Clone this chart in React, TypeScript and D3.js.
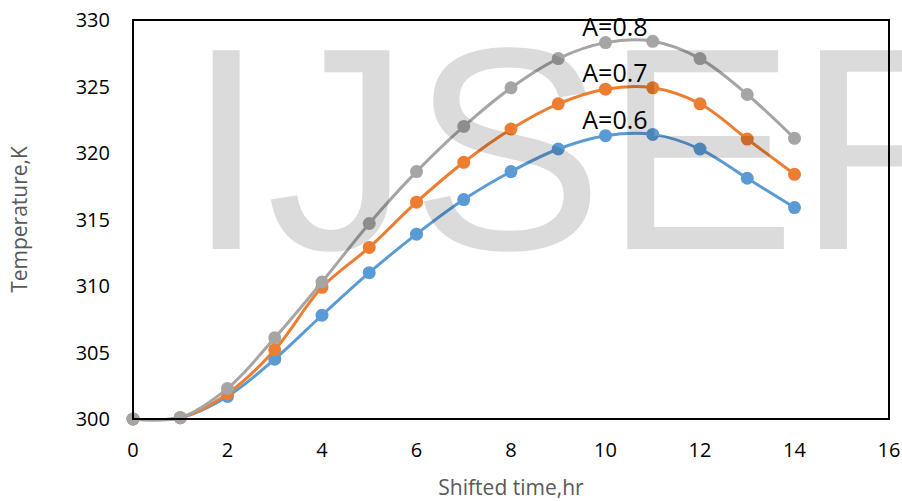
import React from "react";
import * as d3 from "d3";

// Shifted time (hr) and temperature (K) for three values of A
const hours = [0, 1, 2, 3, 4, 5, 6, 7, 8, 9, 10, 11, 12, 13, 14];
const tempA06 = [300, 300.1, 301.7, 304.5, 307.8, 311.0, 313.9, 316.5, 318.6, 320.3, 321.3, 321.4, 320.3, 318.1, 315.9];
const tempA07 = [300, 300.1, 301.9, 305.2, 309.9, 312.9, 316.3, 319.3, 321.8, 323.7, 324.8, 324.9, 323.7, 321.05, 318.4];
const tempA08 = [300, 300.1, 302.3, 306.1, 310.3, 314.7, 318.6, 322.0, 324.9, 327.1, 328.3, 328.4, 327.1, 324.4, 321.1];
const seriesNames = ["A=0.6", "A=0.7", "A=0.8"];
const seriesColors = ["#5B9BD5", "#ED7D31", "#A5A5A5"];
const xTicks = [0, 2, 4, 6, 8, 10, 12, 14, 16];
const yTicks = [300, 305, 310, 315, 320, 325, 330];

const W = 902;
const H = 501;
const plot = { left: 133, right: 889, top: 20, bottom: 419 };
const font = "'Open Sans', 'Noto Sans', sans-serif";

export default function App() {
  const x = d3.scaleLinear().domain([0, 16]).range([plot.left, plot.right]);
  const y = d3.scaleLinear().domain([300, 330]).range([plot.bottom, plot.top]);
  const allSeries = [tempA06, tempA07, tempA08];

  const line = d3
    .line<number>()
    .x((_, i) => x(hours[i]))
    .y((d) => y(d))
    .curve(d3.curveCatmullRom.alpha(0.5));

  return (
    <svg
      width={W}
      height={H}
      style={{ position: "absolute", left: 0, top: 0, background: "#fff" }}
    >
      <rect x={0} y={0} width={W} height={H} fill="#fff" />

      {/* y tick labels */}
      {yTicks.map((t) => (
        <text
          key={"y" + t}
          x={110}
          y={y(t)}
          dy="0.35em"
          textAnchor="end"
          fontFamily={font}
          fontSize={20}
          fill="#000"
        >
          {t}
        </text>
      ))}

      {/* x tick labels */}
      {xTicks.map((t) => (
        <text
          key={"x" + t}
          x={x(t)}
          y={457}
          textAnchor="middle"
          fontFamily={font}
          fontSize={20}
          fill="#000"
        >
          {t}
        </text>
      ))}

      {/* series */}
      {allSeries.map((s, si) => (
        <g key={seriesNames[si]}>
          <path d={line(s) || ""} fill="none" stroke={seriesColors[si]} strokeWidth={3} />
          {s.map((v, i) => (
            <circle key={i} cx={x(hours[i])} cy={y(v)} r={6.5} fill={seriesColors[si]} />
          ))}
        </g>
      ))}

      {/* series labels above the t=10 points */}
      {allSeries.map((s, si) => (
        <text
          key={"lab" + si}
          x={x(10.2)}
          y={y(s[10]) - 7}
          textAnchor="middle"
          fontFamily={font}
          fontSize={25}
          fill="#000"
        >
          {seriesNames[si]}
        </text>
      ))}

      {/* plot frame */}
      <rect
        x={plot.left}
        y={plot.top}
        width={plot.right - plot.left}
        height={plot.bottom - plot.top}
        fill="none"
        stroke="#000"
        strokeWidth={2}
      />

      {/* axis titles */}
      <text
        x={(plot.left + plot.right) / 2}
        y={495}
        textAnchor="middle"
        fontFamily={font}
        fontSize={21}
        fill="#595959"
      >
        Shifted time,hr
      </text>
      <text
        transform={`translate(27, ${(plot.top + plot.bottom) / 2}) rotate(-90)`}
        textAnchor="middle"
        fontFamily={font}
        fontSize={21}
        fill="#595959"
      >
        Temperature,K
      </text>

      {/* watermark */}
      <text
        x={186}
        y={249}
        fontFamily="'Liberation Sans', Arial, sans-serif"
        fontSize={289}
        fill="#000"
        fillOpacity={0.14}
      >
        IJSER
      </text>
    </svg>
  );
}
